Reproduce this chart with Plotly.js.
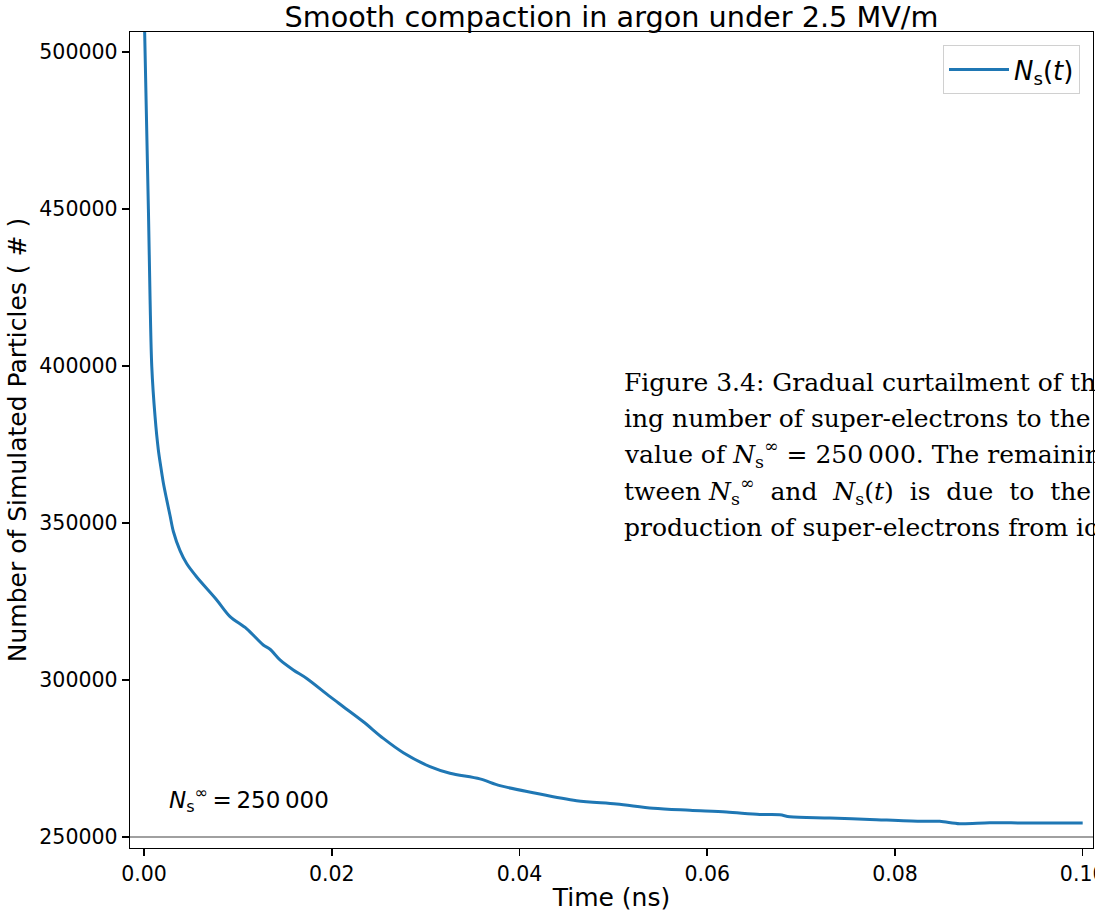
<!DOCTYPE html>
<html>
<head>
<meta charset="utf-8">
<script src="https://cdn.plot.ly/plotly-3.0.1.min.js"></script>
<style>
html, body { margin: 0; padding: 0; overflow: hidden; background: #ffffff; }
#chart { width: 1095px; height: 916px; }
</style>
</head>
<body>
<div id="chart"></div>
<script>
// Time (ns)
const timeNs = [0, 0.00046, 0.00064, 0.00082, 0.00117, 0.00152, 0.00178, 0.00206, 0.00242, 0.00277,
  0.00312, 0.00383, 0.00455, 0.00561, 0.00774, 0.00916, 0.01094, 0.0127, 0.01342, 0.01448,
  0.0159, 0.01733, 0.01981, 0.02123, 0.02336, 0.02549, 0.02762, 0.03046, 0.03259, 0.03578,
  0.03791, 0.04146, 0.04608, 0.05034, 0.05424, 0.05815, 0.06205, 0.0656, 0.06773, 0.0688,
  0.07306, 0.07732, 0.08264, 0.08477, 0.0869, 0.0901, 0.094, 0.1];
// Number of simulated particles N_s(t)
const particles = [515000, 450000, 421000, 399800, 383850, 373250, 367900, 362650, 357300, 352300,
  347300, 341200, 337000, 332800, 325500, 320200, 316300, 311150, 309800, 306400,
  303200, 300500, 294700, 291500, 286700, 281400, 276850, 272400, 270300, 268500,
  266350, 264100, 261550, 260500, 259150, 258500, 257950, 257200, 257100, 256450,
  256050, 255600, 255000, 255000, 254250, 254550, 254450, 254450];
// Target value N_s^inf
const targetValue = 250000;
const yTicks = [250000, 300000, 350000, 400000, 450000, 500000];
const xTicks = [0, 0.02, 0.04, 0.06, 0.08, 0.1];

const titleText = 'Smooth compaction in argon under 2.5 MV/m';
const xTitle = 'Time (ns)';
const yTitle = 'Number of Simulated Particles ( # )';
const legendName = '<i>N</i><sub>s</sub>(<i>t</i>)';
const targetLabel = '<i>N</i><sub>s</sub><sup>∞</sup>\u2009=\u2009250\u2009000';
const captionLines = [
  'Figure 3.4: Gradual curtailment of th',
  'ing number of super-electrons to the',
  'value of <i>N</i><sub>s</sub><sup>∞</sup> = 250\u2009000. The remainin',
  'tween <i>N</i><sub>s</sub><sup>∞</sup>  and  <i>N</i><sub>s</sub>(<i>t</i>)  is  due  to  the',
  'production of super-electrons from io'
];

const FONT = 'DejaVu Sans, Liberation Sans, sans-serif';
const plotTop = 32, plotBottom = 848, plotH = plotBottom - plotTop;
const captionY = [382, 418, 454, 491, 527];

const annotations = [{
  xref: 'paper', yref: 'y', x: 0.038, y: 262000,
  xanchor: 'left', yanchor: 'middle', showarrow: false,
  text: targetLabel, font: {family: FONT, size: 23, color: '#000'}
}];
captionLines.forEach((t, i) => {
  annotations.push({
    xref: 'paper', yref: 'paper', x: (622 - 130) / 963, y: (plotBottom - captionY[i]) / plotH,
    xanchor: 'left', yanchor: 'middle', showarrow: false, align: 'left',
    text: t, font: {family: 'DejaVu Serif, Liberation Serif, serif', size: 25, color: '#000'}
  });
});

const data = [{
  x: timeNs, y: particles, type: 'scatter', mode: 'lines', name: legendName,
  line: {color: '#1f77b4', width: 3, shape: 'spline', smoothing: 0.9}
}];

const layout = {
  width: 1095, height: 916,
  margin: {l: 130, r: 2, t: plotTop, b: 916 - plotBottom, pad: 0},
  paper_bgcolor: '#ffffff', plot_bgcolor: '#ffffff',
  font: {family: FONT, color: '#000'},
  title: {text: titleText, font: {family: FONT, size: 28.7, color: '#000'},
    xref: 'paper', x: 0.5, xanchor: 'center', yref: 'container', y: 1 - 17 / 916, yanchor: 'middle'},
  xaxis: {
    range: [-0.0015, 0.1011], tickvals: xTicks, tickformat: '.2f',
    ticks: 'outside', ticklen: 7, tickwidth: 1.6, tickcolor: '#000',
    showline: true, linecolor: '#000', linewidth: 1.3, mirror: true,
    showgrid: false, zeroline: false, ticklabeloverflow: 'allow',
    tickfont: {family: FONT, size: 20.5, color: '#000'},
    title: {text: xTitle, font: {family: FONT, size: 25, color: '#000'}, standoff: 3}
  },
  yaxis: {
    range: [246497, 506369], tickvals: yTicks, tickformat: 'd',
    ticks: 'outside', ticklen: 7, tickwidth: 1.6, tickcolor: '#000',
    showline: true, linecolor: '#000', linewidth: 1.3, mirror: true,
    showgrid: false, zeroline: false,
    tickfont: {family: FONT, size: 20.5, color: '#000'},
    title: {text: yTitle, font: {family: FONT, size: 25, color: '#000'}, standoff: 5}
  },
  shapes: [{
    type: 'line', xref: 'paper', yref: 'y', x0: 0, x1: 1, y0: targetValue, y1: targetValue,
    line: {color: '#808080', width: 1.5}, layer: 'below'
  }],
  annotations: annotations,
  showlegend: true,
  legend: {
    x: (1080 - 130) / 963, y: (plotBottom - 45) / plotH, xanchor: 'right', yanchor: 'top',
    bgcolor: 'rgba(255,255,255,0.8)', bordercolor: '#d0d0d0', borderwidth: 1,
    itemwidth: 60,
    font: {family: FONT, size: 26, color: '#000'}
  }
};

Plotly.newPlot('chart', data, layout, {displayModeBar: false, staticPlot: true});
</script>
</body>
</html>
